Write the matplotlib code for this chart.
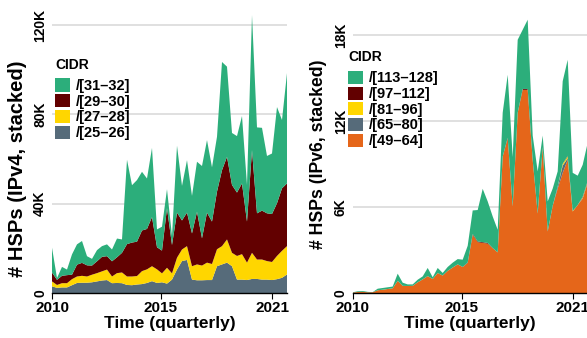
import matplotlib
matplotlib.use("Agg")
import matplotlib.pyplot as plt
import numpy as np

plt.rcParams['font.family'] = ['Liberation Sans', 'DejaVu Sans']
plt.rcParams['font.weight'] = 'bold'

# quarterly samples, 2010 onwards
quarters = np.arange(48)
year_ticks = [0, 21.8, 44]
year_labels = ['2010', '2015', '2021']

# IPv4 HSPs per CIDR group (thousands), bottom to top
v4_labels = ['/[25–26]', '/[27–28]', '/[29–30]', '/[31–32]']
v4_25_26 = [3.0, 2.3, 2.5, 2.5, 3.5, 4.5, 4.6, 4.6, 4.8, 5.2, 5.6, 5.8, 4.4, 4.5, 4.4, 3.6,
            3.5, 3.8, 4.0, 4.5, 5.3, 4.5, 4.8, 4.2, 6.0, 10.5, 14.3, 14.8, 6.0, 5.7, 5.7, 5.8,
            5.8, 12.0, 12.8, 13.6, 12.0, 6.0, 6.0, 5.8, 6.3, 6.3, 6.0, 6.0, 5.8, 6.2, 6.8, 8.3]
v4_27_28 = [2.2, 1.3, 1.9, 1.9, 2.7, 2.9, 3.1, 2.8, 3.4, 3.7, 4.1, 4.7, 3.0, 4.4, 4.8, 3.8,
            3.9, 3.8, 5.8, 6.1, 6.7, 6.1, 4.0, 7.1, 2.8, 5.3, 5.2, 6.2, 6.0, 7.1, 6.6, 7.8,
            7.2, 7.6, 8.2, 10.4, 6.0, 10.6, 11.4, 7.8, 11.7, 8.7, 9.0, 8.3, 8.1, 10.4, 12.1, 12.7]
v4_29_30 = [4.0, 2.3, 3.3, 3.6, 2.0, 5.3, 5.8, 5.0, 4.1, 5.3, 6.5, 6.0, 6.8, 7.1, 8.8, 14.5,
            15.2, 15.4, 18.2, 18.1, 22.0, 9.9, 10.2, 26.7, 12.7, 20.2, 13.0, 15.0, 14.7, 23.6, 12.2, 22.4,
            19.0, 25.8, 34.0, 37.0, 30.4, 28.4, 31.7, 18.4, 46.0, 20.7, 21.9, 21.4, 21.5, 23.6, 28.0, 28.1]
v4_31_32 = [11.1, 0.8, 4.0, 2.5, 9.1, 9.1, 9.8, 4.1, 3.0, 5.0, 4.8, 5.3, 5.3, 8.4, 6.0, 37.8,
            25.7, 27.6, 26.3, 22.6, 31.0, 8.0, 10.7, 8.5, 4.0, 30.0, 15.5, 23.5, 16.8, 22.4, 32.4, 32.5,
            24.3, 24.6, 48.5, 40.4, 23.3, 25.3, 30.2, 16.4, 60.5, 38.5, 37.1, 25.7, 27.1, 43.1, 30.6, 49.4]

# IPv6 HSPs per CIDR group (thousands), bottom to top
v6_labels = ['/[49–64]', '/[65–80]', '/[81–96]', '/[97–112]', '/[113–128]']
v6_49_64 = [0.03, 0.07, 0.08, 0.05, 0.05, 0.19, 0.23, 0.28, 0.33, 0.85, 0.5, 0.49, 0.5, 0.75, 0.95, 1.18,
            0.98, 1.4, 1.22, 1.55, 1.78, 2.0, 1.82, 2.1, 4.07, 3.55, 3.5, 3.45, 3.14, 2.84, 9.54, 10.8,
            6.05, 12.6, 14.2, 14.2, 9.3, 5.55, 10.2, 4.3, 6.1, 7.3, 8.4, 9.3, 5.7, 6.15, 6.6, 7.7]
v6_65_80 = [0, 0, 0, 0, 0, 0, 0, 0, 0, 0, 0, 0, 0, 0, 0, 0,
            0, 0, 0, 0, 0, 0, 0, 0, 0, 0, 0, 0, 0, 0, 0, 0,
            0, 0, 0, 0, 0, 0, 0, 0, 0, 0.15, 0.5, 0.12, 0, 0, 0.04, 0.04]
v6_81_96 = [0, 0, 0, 0, 0, 0, 0, 0, 0, 0, 0, 0, 0, 0, 0, 0,
            0, 0, 0, 0, 0, 0, 0, 0, 0, 0, 0, 0, 0, 0, 0, 0,
            0, 0, 0, 0, 0, 0, 0, 0, 0, 0, 0.12, 0.12, 0.03, 0, 0.05, 0.05]
v6_97_112 = [0, 0, 0, 0, 0, 0, 0, 0, 0, 0, 0, 0, 0, 0, 0, 0,
             0, 0, 0, 0, 0, 0, 0, 0.03, 0.05, 0.05, 0.05, 0.05, 0, 0, 0, 0.05,
             0, 0, 0.06, 0.06, 0, 0, 0, 0, 0, 0, 0, 0.05, 0, 0, 0.04, 0.04]
v6_113_128 = [0.02, 0.05, 0.06, 0.03, 0.01, 0.11, 0.12, 0.12, 0.12, 0.5, 0.22, 0.11, 0.1, 0.18, 0.21, 0.57,
              0.12, 0.35, 0.18, 0.27, 0.34, 0.37, 0.51, 1.17, 1.65, 2.2, 3.73, 2.9, 2.21, 1.58, 3.06, 4.4,
              3.45, 5.1, 4.14, 4.84, 1.7, 2.95, 0.8, 2.1, 1.2, 1.05, 5.78, 6.71, 2.67, 2.05, 2.23, 2.67]

v4_colors = ['#566b7a', '#ffd600', '#620000', '#2cae7b']
v6_colors = ['#e5661a', '#566b7a', '#ffd600', '#620000', '#2cae7b']


def style_axis(ax, yticks, ytick_labels, ymax, ylabel, ylabel_size, ylabel_pos):
    ax.set_xlim(0, 47)
    ax.set_ylim(0, ymax)
    ax.set_yticks(yticks)
    ax.set_yticklabels(ytick_labels, rotation=90, va='center', fontsize=10, fontweight='bold')
    ax.tick_params(axis='y', length=0, pad=3.5)
    ax.set_xticks(year_ticks)
    ax.set_xticklabels(year_labels, fontsize=11, fontweight='bold')
    ax.tick_params(axis='x', length=4, width=0.8, pad=1.5)
    ax.grid(axis='y', color='#dadada', linewidth=1.2)
    ax.set_axisbelow(True)
    for side in ['top', 'right', 'left']:
        ax.spines[side].set_visible(False)
    ax.spines['bottom'].set_linewidth(1)
    ax.set_xlabel('Time (quarterly)', fontsize=12.5, fontweight='bold', labelpad=1)
    ax.set_ylabel(ylabel, fontsize=ylabel_size, fontweight='bold')
    ax.yaxis.set_label_coords(*ylabel_pos)


def add_legend(ax, handles, labels, title_xy, rows_xy):
    ax.text(title_xy[0], title_xy[1], 'CIDR', transform=ax.transAxes,
            ha='left', va='center', fontsize=10, fontweight='bold')
    ax.legend(handles[::-1], labels[::-1], loc='upper left', bbox_to_anchor=rows_xy,
              frameon=False, fontsize=10.5, handlelength=1.0, handleheight=1.0,
              handletextpad=0.4, labelspacing=0.08, borderpad=0, borderaxespad=0)


fig = plt.figure(figsize=(5.87, 3.38), dpi=100)
ax1 = fig.add_axes([52 / 587, 45 / 338, 235 / 587, 279 / 338])
ax2 = fig.add_axes([352.7 / 587, 45 / 338, 235 / 587, 279 / 338])

h1 = ax1.stackplot(quarters, v4_25_26, v4_27_28, v4_29_30, v4_31_32,
                   colors=v4_colors, linewidth=0)
style_axis(ax1, [0, 40, 80, 120], ['0', '40K', '80K', '120K'], 125,
           '# HSPs (IPv4, stacked)', 14.5, (-0.106, 0.446))
add_legend(ax1, h1, v4_labels, (0.013, 0.817), (0.013, 0.769))

h2 = ax2.stackplot(quarters, v6_49_64, v6_65_80, v6_81_96, v6_97_112, v6_113_128,
                   colors=v6_colors, linewidth=0)
style_axis(ax2, [0, 6, 12, 18], ['0', '6K', '12K', '18K'], 19.5,
           '# HSPs (IPv6, stacked)', 12.7, (-0.109, 0.496))
add_legend(ax2, h2, v6_labels, (-0.02, 0.847), (-0.02, 0.796))

fig.savefig('out.png', dpi=100)
